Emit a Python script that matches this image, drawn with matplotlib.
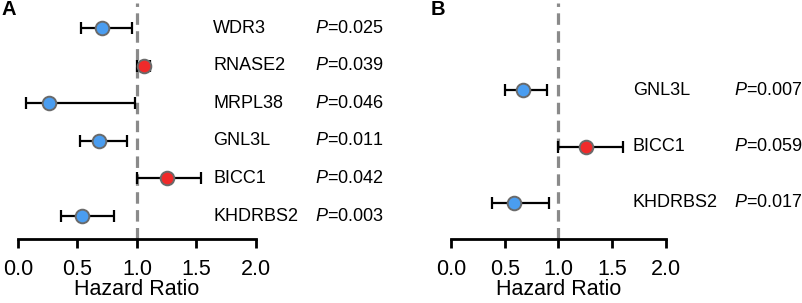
import matplotlib
matplotlib.use("Agg")
import matplotlib.pyplot as plt

plt.rcParams['font.family'] = ['Liberation Sans', 'DejaVu Sans']
plt.rcParams['mathtext.fontset'] = 'custom'
plt.rcParams['mathtext.it'] = 'Liberation Sans:italic'
plt.rcParams['mathtext.rm'] = 'Liberation Sans'

# Panel A data
genes_a = ["WDR3", "RNASE2", "MRPL38", "GNL3L", "BICC1", "KHDRBS2"]
hr_a = [0.71, 1.055, 0.26, 0.68, 1.25, 0.54]
low_a = [0.53, 1.00, 0.07, 0.52, 1.00, 0.36]
high_a = [0.96, 1.11, 0.98, 0.92, 1.54, 0.81]
p_a = ["0.025", "0.039", "0.046", "0.011", "0.042", "0.003"]

# Panel B data
genes_b = ["GNL3L", "BICC1", "KHDRBS2"]
hr_b = [0.67, 1.26, 0.59]
low_b = [0.50, 1.00, 0.38]
high_b = [0.89, 1.60, 0.91]
p_b = ["0.007", "0.059", "0.017"]

xticks = [0.0, 0.5, 1.0, 1.5, 2.0]
tick_labels = ["0.0", "0.5", "1.0", "1.5", "2.0"]

BLUE = "#4a9df0"
RED = "#f02a2a"
EDGE = "#6a6a6a"

W, H = 803, 303
fig = plt.figure(figsize=(W / 100, H / 100), dpi=100)


def panel(left_px, right_px, genes, hr, low, high, pv, ylim, gene_x, p_x, letter, letter_px):
    top_px, bot_px = 3, 239
    ax = fig.add_axes([left_px / W, (H - bot_px) / H, (right_px - left_px) / W, (bot_px - top_px) / H])
    ax.set_xlim(0, 2.0)
    ax.set_ylim(*ylim)
    ys = list(range(len(genes)))
    ax.axvline(1.0, color="#8a8a8a", lw=2.3, ls=(0, (3.6, 2.0)), zorder=1)
    for i in ys:
        color = RED if hr[i] > 1 else BLUE
        ax.errorbar(hr[i], i, xerr=[[hr[i] - low[i]], [high[i] - hr[i]]], fmt="none",
                    ecolor="black", elinewidth=1.6, capsize=4, capthick=1.6, zorder=2)
        ax.plot(hr[i], i, "o", ms=9.8, mfc=color, mec=EDGE, mew=1.4, zorder=3)
        ax.text(gene_x, i, genes[i], fontsize=13, va="center", ha="left", clip_on=False)
        ax.text(p_x, i, r"$\it{P}$" + "=" + pv[i], fontsize=13, va="center", ha="left", clip_on=False)
    for s in ["top", "right", "left"]:
        ax.spines[s].set_visible(False)
    ax.spines["bottom"].set_linewidth(2.0)
    ax.set_yticks([])
    ax.set_xticks(xticks)
    ax.set_xticklabels(tick_labels, fontsize=15.5)
    ax.tick_params(axis="x", length=6.5, width=2.0, pad=8)
    ax.set_xlabel("Hazard Ratio", fontsize=15.5, labelpad=-1)
    fig.text(letter_px[0] / W, 1 - letter_px[1] / H, letter, fontsize=14.5, fontweight="bold",
             ha="left", va="top")
    return ax


panel(18, 256, genes_a, hr_a, low_a, high_a, p_a, (5.61, -0.665), 1.64, 2.5, "A", (2, 0))
panel(451, 666, genes_b, hr_b, low_b, high_b, p_b, (2.65, -1.56), 1.69, 2.63, "B", (431, 0))

fig.savefig("out.png", dpi=100)
